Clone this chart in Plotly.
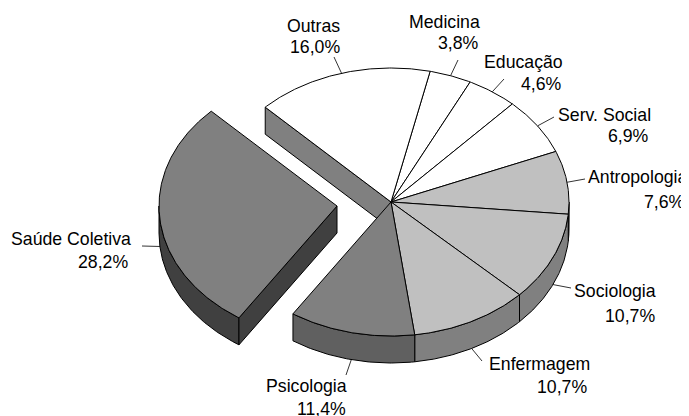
import numpy as np
import plotly.graph_objects as go

# Data (clockwise from the Medicina slice)
categories = ["Medicina", "Educação", "Serv. Social", "Antropologia", "Sociologia",
              "Enfermagem", "Psicologia", "Saúde Coletiva", "Outras"]
percent = [3.8, 4.6, 6.9, 7.6, 10.7, 10.7, 11.4, 28.2, 16.0]
percent_text = ["3,8%", "4,6%", "6,9%", "7,6%", "10,7%", "10,7%", "11,4%", "28,2%", "16,0%"]

# Styling
top_colors = ["#FFFFFF", "#FFFFFF", "#FFFFFF", "#C0C0C0", "#C0C0C0", "#C0C0C0", "#808080", "#808080", "#FFFFFF"]
side_colors = ["#808080", "#808080", "#808080", "#808080", "#808080", "#808080", "#606060", "#404040", "#808080"]
exploded = "Saúde Coletiva"

# Projection of the pie
CX, CY, RX, RY, DEPTH = 391, 202, 178, 134, 27
START = 12.7
EXPLODE = (-54, 4)
FONT = dict(family="Liberation Sans, Arial, sans-serif", size=17.7, color="#000000")
PAGE_MARGIN = 8  # the page's own body margin

# Label layout: right edge of name, right edge of value, y of name, y of value, leader end
label_layout = {
    "Medicina": (480, 479, 22, 43, (458, 60)),
    "Educação": (563, 562, 62, 84, (504, 79)),
    "Serv. Social": (651, 649, 115, 136, (554, 117)),
    "Antropologia": (687, 685, 177, 202, (585, 179)),
    "Sociologia": (656, 655, 291, 316, (571, 288)),
    "Enfermagem": (590, 587, 364, 387, (482, 361)),
    "Psicologia": (347, 346, 386, 409, (346, 375)),
    "Saúde Coletiva": (131, 128, 239, 262, (142, 246)),
    "Outras": (340, 340, 26, 47, (334, 57)),
}


def pt(theta, off=(0, 0), dz=0):
    t = np.radians(theta)
    return CX + off[0] + RX * np.sin(t), CY + off[1] - RY * np.cos(t) + dz


def arc(a, b, off=(0, 0), dz=0):
    th = np.linspace(a, b, max(int(abs(b - a)) * 2, 2) + 1)
    x, y = pt(th, off, dz)
    return list(x), list(y)


def poly(fig, x, y, fill):
    fig.add_trace(go.Scatter(x=x + x[:1], y=y + y[:1], mode="lines", fill="toself",
                             fillcolor=fill, line=dict(color="#000000", width=1),
                             hoverinfo="skip", showlegend=False))


fig = go.Figure()
total = sum(percent)
spans = []
a = START
for v in percent:
    b = a + 360 * v / total
    spans.append((a, b))
    a = b

# Cut wall of the slice following the gap (back of the pie)
outras = categories.index("Outras")
a0 = spans[outras][0]
ox, oy = pt(a0)
poly(fig, [CX, ox, ox, CX], [CY, oy, oy + DEPTH, CY + DEPTH], side_colors[outras])

# Curved side walls
for i, c in enumerate(categories):
    a, b = spans[i]
    lo, hi = max(a, 90), min(b, 270)
    if hi <= lo:
        continue
    off = EXPLODE if c == exploded else (0, 0)
    x1, y1 = arc(lo, hi, off)
    x2, y2 = arc(hi, lo, off, DEPTH)
    poly(fig, x1 + x2, y1 + y2, side_colors[i])

# Cut wall of the exploded slice
i = categories.index(exploded)
a, b = spans[i]
ex, ey = pt(a, EXPLODE)
ax_, ay_ = CX + EXPLODE[0], CY + EXPLODE[1]
poly(fig, [ax_, ex, ex, ax_], [ay_, ey, ey + DEPTH, ay_ + DEPTH], side_colors[i])

# Top faces
for i, c in enumerate(categories):
    a, b = spans[i]
    off = EXPLODE if c == exploded else (0, 0)
    x, y = arc(a, b, off)
    poly(fig, [CX + off[0]] + x, [CY + off[1]] + y, top_colors[i])

# Leaders and labels
annotations = []
for i, c in enumerate(categories):
    a, b = spans[i]
    mid = (a + b) / 2
    off = EXPLODE if c == exploded else (0, 0)
    dz = DEPTH if 90 < mid % 360 < 270 else 0
    sx, sy = pt(mid, off, dz)
    rx1, rx2, y1, y2, end = label_layout[c]
    fig.add_trace(go.Scatter(x=[sx, end[0]], y=[sy, end[1]], mode="lines",
                             line=dict(color="#000000", width=0.8),
                             hoverinfo="skip", showlegend=False))
    for txt, rx, y in ((c, rx1, y1), (percent_text[i], rx2, y2)):
        annotations.append(dict(x=rx, y=y, text=txt, showarrow=False, xanchor="right",
                                yanchor="middle", xref="x", yref="y", font=FONT,
                                borderpad=0, xshift=1))

fig.update_layout(
    width=689 - PAGE_MARGIN, height=416 - PAGE_MARGIN, margin=dict(l=0, r=0, t=0, b=0),
    paper_bgcolor="#FFFFFF", plot_bgcolor="#FFFFFF",
    xaxis=dict(range=[PAGE_MARGIN, 689], visible=False, fixedrange=True),
    yaxis=dict(range=[416, PAGE_MARGIN], visible=False, fixedrange=True),
    annotations=annotations,
)
fig.write_html("out.html", config=dict(displayModeBar=False))
